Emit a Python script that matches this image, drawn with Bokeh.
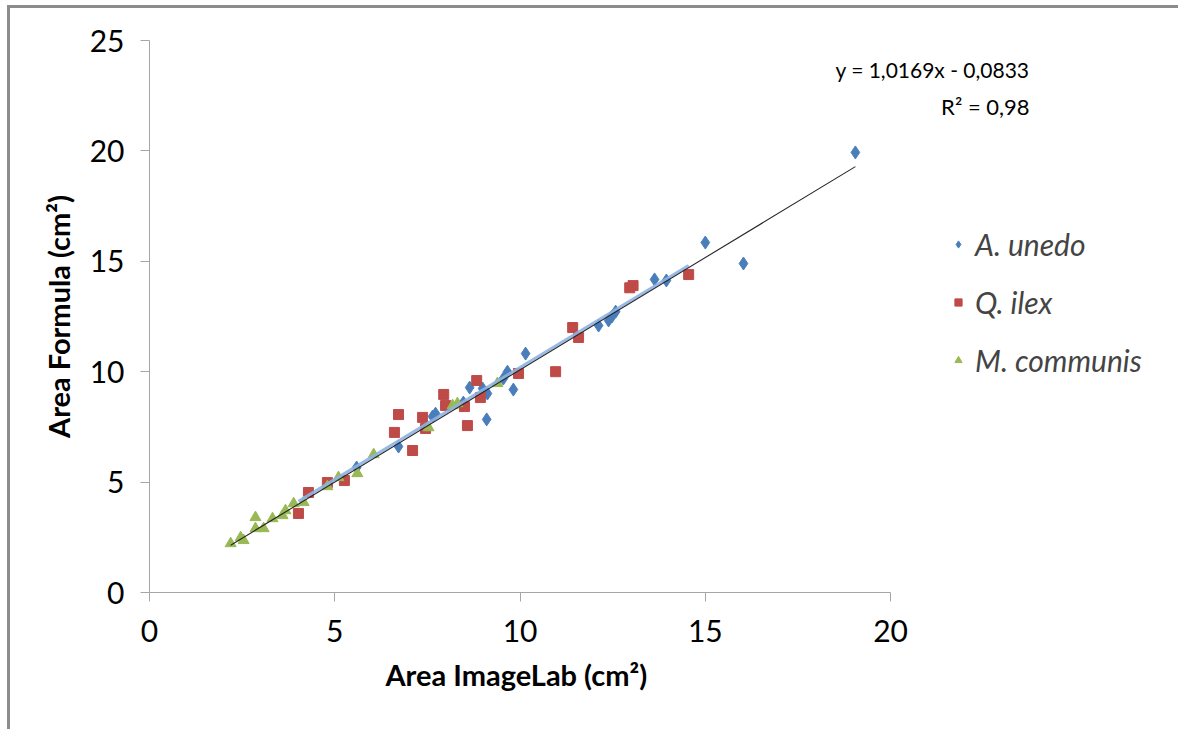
import numpy as np
from bokeh.plotting import figure
from bokeh.models import Range1d, Legend, LegendItem, Label, FixedTicker, InlineStyleSheet, Title
from bokeh.embed import file_html
from bokeh.resources import INLINE

# ---- data ----
unedo_x = [5.59, 6.72, 7.64, 7.72, 8.47, 8.64, 8.99, 9.12, 9.10, 9.55, 9.66, 9.82, 10.15,
           12.12, 12.39, 12.48, 12.58, 13.63, 13.95, 15.00, 16.03, 19.05]
unedo_y = [5.66, 6.61, 7.97, 8.10, 8.60, 9.28, 9.24, 9.01, 7.84, 9.69, 10.00, 9.19, 10.82,
           12.09, 12.32, 12.50, 12.72, 14.18, 14.13, 15.85, 14.90, 19.93]

ilex_x = [4.02, 4.29, 4.80, 5.26, 6.61, 6.72, 7.10, 7.37, 7.45, 7.94, 7.99, 8.50, 8.58,
          8.83, 8.93, 9.96, 10.96, 11.42, 11.58, 12.96, 13.05, 14.55]
ilex_y = [3.58, 4.53, 4.98, 5.07, 7.25, 8.06, 6.43, 7.93, 7.43, 8.97, 8.47, 8.42, 7.56,
          9.60, 8.83, 9.92, 10.00, 12.00, 11.55, 13.80, 13.90, 14.40]

comm_x = [2.19, 2.46, 2.54, 2.86, 2.86, 3.08, 3.32, 3.59, 3.67, 3.89, 4.16, 4.80, 5.10,
          5.61, 6.05, 7.53, 8.18, 8.31, 9.39]
comm_y = [2.22, 2.49, 2.36, 3.40, 2.90, 2.90, 3.35, 3.49, 3.71, 4.03, 4.08, 4.80, 5.21,
          5.39, 6.25, 7.47, 8.47, 8.56, 9.47]

series_names = ["A. unedo", "Q. ilex", "M. communis"]
slope, intercept = 1.0169, -0.0833
eq_text = "y = 1,0169x - 0,0833"
r2_text = "R² = 0,98"
x_label = "Area ImageLab (cm²)"
y_label = "Area Formula (cm²)"
x_ticks = [0, 5, 10, 15, 20]
y_ticks = [0, 5, 10, 15, 20, 25]

BLUE, RED, GREEN = "#4A7EBB", "#BE4B48", "#98B954"
FONT = "Lato"

border_css = InlineStyleSheet(css="""
:host { position: relative; }
:host::after { content: ''; position: absolute; left: 7px; top: 5px; right: 0; bottom: 0;
  border-top: 3px solid #8c8c8c; border-left: 3px solid #8c8c8c; pointer-events: none; }
""")

p = figure(width=1178, height=729, output_backend="svg", toolbar_location=None,
           x_range=Range1d(0, 27.77), y_range=Range1d(0, 25),
           min_border_left=149, min_border_right=0, min_border_top=40, min_border_bottom=137)
p.stylesheets = [border_css]
p.xgrid.visible = False
p.ygrid.visible = False
p.outline_line_color = None
p.background_fill_color = "white"
p.border_fill_color = "white"

r1 = p.scatter(unedo_x, unedo_y, marker="diamond", size=13, color=BLUE)
r2 = p.scatter(ilex_x, ilex_y, marker="square", size=10, color=RED)
r3 = p.scatter(comm_x, comm_y, marker="triangle", size=11, color=GREEN)

# trendline of Q. ilex (light blue) and overall trendline (black)
ix = np.array(ilex_x)
b1, b0 = np.polyfit(ix, np.array(ilex_y), 1)
lx = [ix.min(), ix.max()]
p.line(lx, [b0 + b1 * v for v in lx], line_color="#8DB3E2", line_width=3, line_alpha=0.9)

all_x = unedo_x + ilex_x + comm_x
tx = [min(all_x), max(all_x)]
p.line(tx, [slope * v + intercept for v in tx], line_color="#262626", line_width=1.1)

for ax in (p.xaxis[0], p.yaxis[0]):
    ax.axis_line_color = "#a6a6a6"
    ax.major_tick_line_color = "#a6a6a6"
    ax.minor_tick_line_color = None
    ax.major_tick_in = 0
    ax.major_tick_out = 9
    ax.major_label_text_font = FONT
    ax.major_label_text_font_size = "30px"
    ax.major_label_text_color = "#000000"
    ax.axis_label_text_font = FONT
    ax.axis_label_text_font_size = "29px"
    ax.axis_label_text_font_style = "bold"
    ax.axis_label_text_color = "#000000"

p.xaxis.bounds = (0, 20)
p.yaxis.bounds = (0, 25)
p.xaxis.ticker = FixedTicker(ticks=x_ticks)
p.yaxis.ticker = FixedTicker(ticks=y_ticks)
p.yaxis.axis_label = y_label
p.xaxis.major_label_standoff = 18
p.yaxis.major_label_standoff = 16
p.yaxis.axis_label_standoff = 11

# x-axis title, aligned under the 0..20 axis span
p.add_layout(Title(text=x_label, align="left", offset=236, standoff=20,
                   text_font=FONT, text_font_size="29px", text_font_style="bold",
                   text_color="#000000"), "below")

legend = Legend(items=[LegendItem(label=series_names[0], renderers=[r1]),
                       LegendItem(label=series_names[1], renderers=[r2]),
                       LegendItem(label=series_names[2], renderers=[r3])],
                location=(800, 214), border_line_color=None, background_fill_alpha=0,
                label_text_font=FONT, label_text_font_style="italic", label_text_font_size="30px",
                spacing=22, glyph_width=18, glyph_height=18, label_standoff=8, padding=0, margin=0)
p.add_layout(legend, "center")

p.add_layout(Label(x=23.75, y=23.7, text=eq_text, text_align="right", text_baseline="middle",
                   text_font=FONT, text_font_size="21px", text_color="#000000"))
p.add_layout(Label(x=23.75, y=22.0, text=r2_text, text_align="right", text_baseline="middle",
                   text_font=FONT, text_font_size="22px", text_color="#000000"))

open("out.html", "w").write(file_html(p, INLINE))
